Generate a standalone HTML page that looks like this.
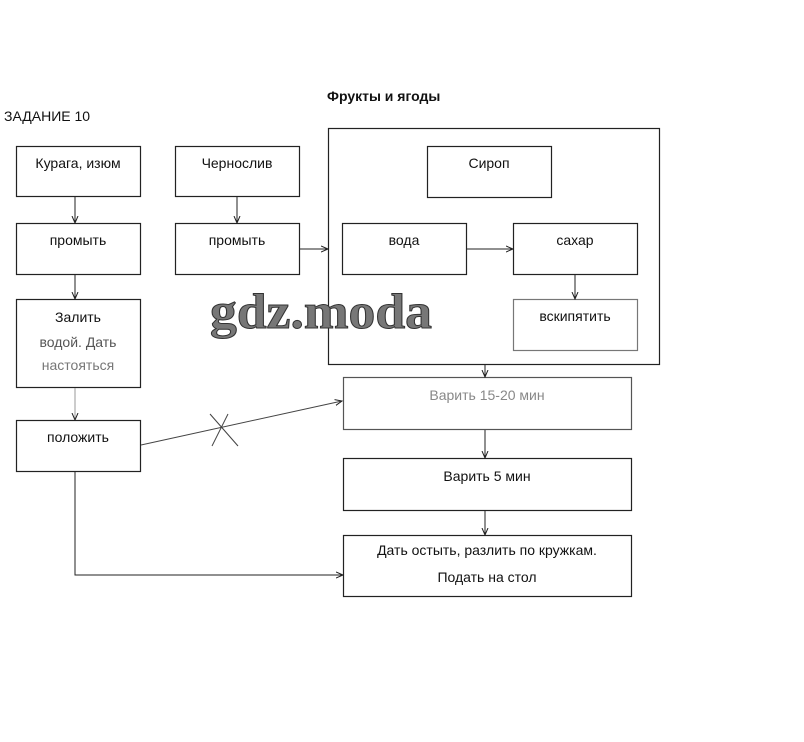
<!DOCTYPE html>
<html><head><meta charset="utf-8"><style>
html,body{margin:0;padding:0;background:#fff;}
svg{display:block;}
text{font-family:"Liberation Sans","DejaVu Sans",sans-serif;font-size:14px;fill:#111;}
</style></head><body>
<svg width="804" height="742" viewBox="0 0 804 742" xmlns="http://www.w3.org/2000/svg">
<defs><marker id="a" markerWidth="8" markerHeight="8" refX="7" refY="4" orient="auto" markerUnits="userSpaceOnUse"><path d="M0,1 L7,4 L0,7" fill="none" stroke="#222" stroke-width="1"/></marker></defs>
<rect width="804" height="742" fill="#fff"/>
<text x="327" y="101" style="font-weight:bold;font-size:14px">Фрукты и ягоды</text>
<text x="4" y="121" style="font-size:14px">ЗАДАНИЕ 10</text>
<g fill="none" stroke="#222" stroke-width="1.2">
<rect x="328.5" y="128.5" width="331" height="236"/>
<rect x="16.5" y="146.5" width="124" height="50"/>
<rect x="175.5" y="146.5" width="124" height="50"/>
<rect x="427.5" y="146.5" width="124" height="51"/>
<rect x="16.5" y="223.5" width="124" height="51"/>
<rect x="175.5" y="223.5" width="124" height="51"/>
<rect x="342.5" y="223.5" width="124" height="51"/>
<rect x="513.5" y="223.5" width="124" height="51"/>
<rect x="16.5" y="299.5" width="124" height="88"/>
<rect x="513.5" y="299.5" width="124" height="51" stroke="#777"/>
<rect x="16.5" y="420.5" width="124" height="51"/>
<rect x="343.5" y="377.5" width="288" height="52" stroke="#555"/>
<rect x="343.5" y="458.5" width="288" height="52"/>
<rect x="343.5" y="535.5" width="288" height="61"/>
</g>
<g fill="none" stroke="#222" stroke-width="1" marker-end="url(#a)">
<line x1="75" y1="197" x2="75" y2="223"/>
<line x1="237" y1="197" x2="237" y2="223"/>
<line x1="75" y1="275" x2="75" y2="299"/>
<line x1="75" y1="388" x2="75" y2="420" stroke="#999"/>
<line x1="300" y1="249" x2="328" y2="249"/>
<line x1="467" y1="249" x2="513" y2="249"/>
<line x1="575" y1="275" x2="575" y2="299"/>
<line x1="485" y1="365" x2="485" y2="377"/>
<line x1="485" y1="430" x2="485" y2="458"/>
<line x1="485" y1="511" x2="485" y2="535"/>
<line x1="141" y1="445" x2="342" y2="401" stroke="#444"/>
<polyline points="75,472 75,575 343,575"/>
</g>
<g stroke="#444" stroke-width="1"><line x1="210" y1="414" x2="238" y2="446"/><line x1="228" y1="414" x2="212" y2="446"/></g>
<g text-anchor="middle">
<text x="78" y="168">Курага, изюм</text>
<text x="237" y="168">Чернослив</text>
<text x="489" y="168">Сироп</text>
<text x="78" y="245">промыть</text>
<text x="237" y="245">промыть</text>
<text x="404" y="245">вода</text>
<text x="575" y="245">сахар</text>
<text x="78" y="322">Залить</text>
<text x="78" y="347" style="fill:#555">водой. Дать</text>
<text x="78" y="370" style="fill:#777">настояться</text>
<text x="575" y="321">вскипятить</text>
<text x="78" y="442">положить</text>
<text x="487" y="400" style="fill:#888">Варить 15-20 мин</text>
<text x="487" y="481">Варить 5 мин</text>
<text x="487" y="555">Дать остыть, разлить по кружкам.</text>
<text x="487" y="582">Подать на стол</text>
</g>
<text x="210" y="328" textLength="222" lengthAdjust="spacingAndGlyphs" style="font-family:'Liberation Serif',serif;font-size:50px;font-weight:bold;fill:#777;stroke:#333;stroke-width:1">gdz.moda</text>
</svg>
</body></html>
